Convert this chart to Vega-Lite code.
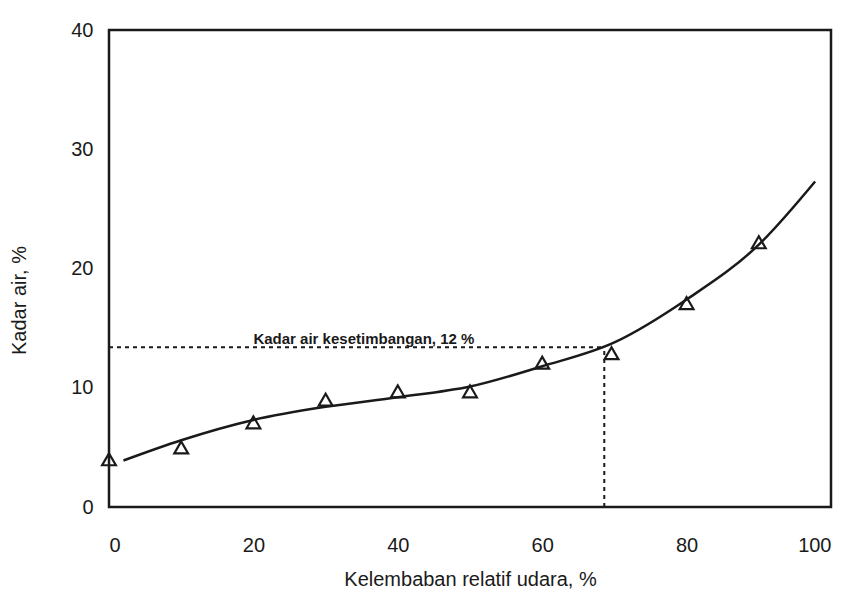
{
  "$schema": "https://vega.github.io/schema/vega-lite/v6.json",
  "width": 722,
  "height": 477,
  "autosize": {"type": "none"},
  "padding": {"left": 109, "top": 30, "right": 22, "bottom": 90},
  "background": "white",
  "config": {
    "view": {"stroke": "#1a1a1a", "strokeWidth": 2.5},
    "font": "Liberation Sans",
    "axis": {
      "domain": false, "ticks": false, "grid": false,
      "labelFont": "Liberation Sans", "labelFontSize": 20, "labelColor": "#1a1a1a",
      "titleFont": "Liberation Sans", "titleFontSize": 20, "titleFontWeight": "normal", "titleColor": "#1a1a1a"
    }
  },
  "datasets": {
    "points": [
      {"rh": 0, "mc": 4.0},
      {"rh": 10, "mc": 5.0},
      {"rh": 20, "mc": 7.1},
      {"rh": 30, "mc": 9.0},
      {"rh": 40, "mc": 9.7},
      {"rh": 50, "mc": 9.7},
      {"rh": 60, "mc": 12.1},
      {"rh": 69.6, "mc": 12.9},
      {"rh": 80, "mc": 17.1},
      {"rh": 90, "mc": 22.2}
    ],
    "curve": [
      {"rh": 2, "mc": 3.9},
      {"rh": 10, "mc": 5.6},
      {"rh": 20, "mc": 7.3},
      {"rh": 30, "mc": 8.4},
      {"rh": 40, "mc": 9.2},
      {"rh": 50, "mc": 10.1},
      {"rh": 60, "mc": 11.8},
      {"rh": 70, "mc": 13.8},
      {"rh": 80, "mc": 17.4},
      {"rh": 90, "mc": 22.0},
      {"rh": 97.8, "mc": 27.3}
    ],
    "hline": [
      {"rh": 0, "mc": 13.4},
      {"rh": 68.6, "mc": 13.4}
    ],
    "vline": [
      {"rh": 68.6, "mc": 0},
      {"rh": 68.6, "mc": 13.4}
    ],
    "note": [
      {"rh": 20, "mc": 14.1, "label": "Kadar air kesetimbangan, 12 %"}
    ]
  },
  "layer": [
    {
      "data": {"name": "curve"},
      "mark": {"type": "line", "interpolate": "monotone", "color": "#1a1a1a", "strokeWidth": 2.5},
      "encoding": {
        "x": {"field": "rh", "type": "quantitative",
              "scale": {"domain": [0, 100], "nice": false, "zero": false},
              "axis": {"values": [0, 20, 40, 60, 80, 100], "labelPadding": 28, "titlePadding": 14, "title": "Kelembaban relatif udara, %"}},
        "y": {"field": "mc", "type": "quantitative",
              "scale": {"domain": [0, 40], "nice": false},
              "axis": {"values": [0, 10, 20, 30, 40], "labelPadding": 16, "title": "Kadar air, %", "titleX": -80, "titleY": 270}}
      }
    },
    {
      "data": {"name": "hline"},
      "mark": {"type": "line", "color": "#1a1a1a", "strokeWidth": 2, "strokeDash": [4, 4]},
      "encoding": {
        "x": {"field": "rh", "type": "quantitative"},
        "y": {"field": "mc", "type": "quantitative"}
      }
    },
    {
      "data": {"name": "vline"},
      "mark": {"type": "line", "color": "#1a1a1a", "strokeWidth": 2, "strokeDash": [4, 4]},
      "encoding": {
        "x": {"field": "rh", "type": "quantitative"},
        "y": {"field": "mc", "type": "quantitative"}
      }
    },
    {
      "data": {"name": "points"},
      "mark": {"type": "point", "shape": "triangle-up", "filled": false, "color": "#1a1a1a", "opacity": 1, "strokeWidth": 2.2, "size": 190},
      "encoding": {
        "x": {"field": "rh", "type": "quantitative"},
        "y": {"field": "mc", "type": "quantitative"}
      }
    },
    {
      "data": {"name": "note"},
      "mark": {"type": "text", "align": "left", "baseline": "middle", "fontSize": 15, "fontWeight": "bold", "color": "#1a1a1a"},
      "encoding": {
        "x": {"field": "rh", "type": "quantitative"},
        "y": {"field": "mc", "type": "quantitative"},
        "text": {"field": "label"}
      }
    }
  ]
}
